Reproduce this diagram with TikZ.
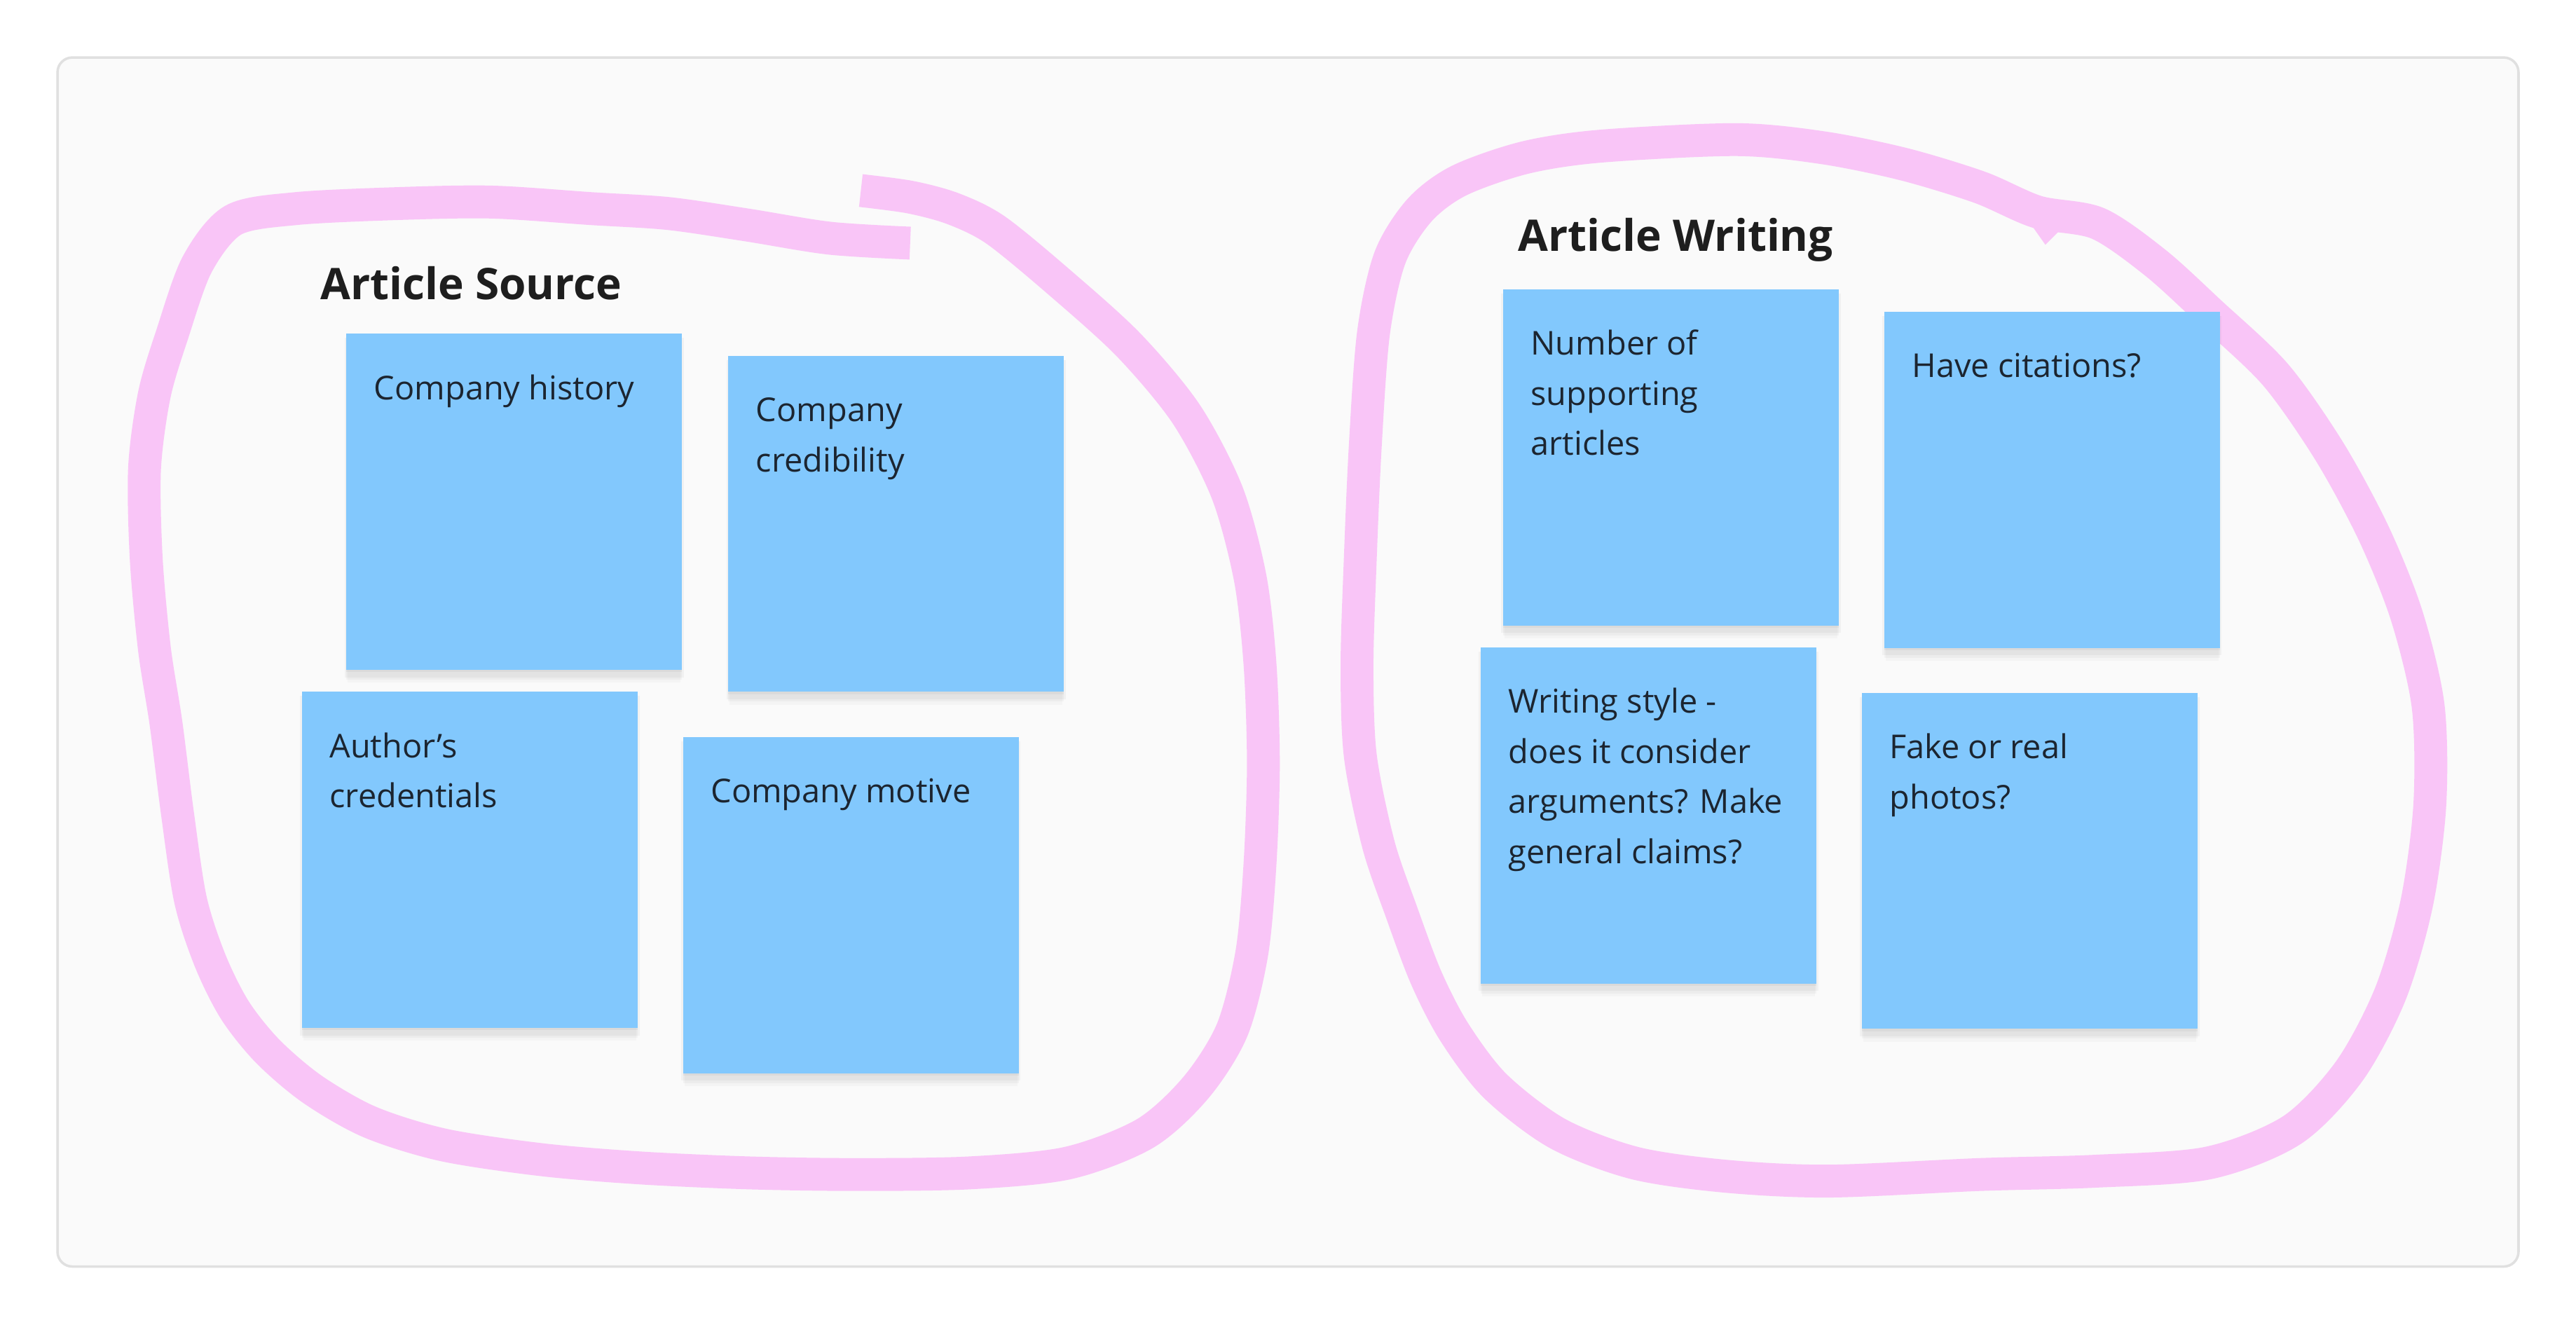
\documentclass[tikz,border=0pt]{standalone}
\usepackage{fontspec}
\setmainfont{Open Sans}
\usetikzlibrary{calc,shadows}
\definecolor{stickyblue}{HTML}{82C8FD}
\definecolor{loopink}{HTML}{F9C5F7}
\definecolor{framefill}{HTML}{FAFAFA}
\definecolor{frameline}{HTML}{E0E0E0}
\definecolor{ink}{HTML}{1C2530}
\definecolor{titleink}{HTML}{1E1E1E}
\begin{document}
\begin{tikzpicture}[x=1pt,y=-1pt,
  framebox/.style={draw=frameline, fill=framefill, line width=1.5pt, rounded corners=9pt},
  sticky/.style={rectangle, fill=stickyblue, minimum width=204.5pt, minimum height=204.5pt, inner sep=0pt, anchor=north west,
    general shadow={fill=black, opacity=0.025, shadow yshift=-9pt, shadow xshift=0pt, shadow scale=0.99},
    general shadow={fill=black, opacity=0.03, shadow yshift=-6pt, shadow xshift=0pt},
    general shadow={fill=black, opacity=0.035, shadow yshift=-3.5pt, shadow xshift=0pt, shadow scale=1.01},
    general shadow={fill=black, opacity=0.04, shadow yshift=-1.5pt, shadow xshift=0pt}},
  stext/.style={anchor=north west, inner sep=0pt, align=left, text=ink, font=\fontsize{20}{30.5}\selectfont},
  grouptitle/.style={anchor=base west, inner sep=0pt, text=titleink, font=\fontsize{26.5}{32}\selectfont\bfseries},
  loopline/.style={draw=loopink, line width=20pt, line cap=butt, line join=round}]
\useasboundingbox (0,0) rectangle (1568,806.2);
\fill[white] (0,0) rectangle (1568,806.2);
\draw[framebox] (35,35) rectangle (1533,771);

% left loop
\draw[loopline] plot[smooth, tension=0.5] coordinates {
  (524,116) (554,120) (580,127) (606,140) (645,172) (687,210) (722,252) (747,300)
  (761,352) (767,405) (769,465) (767,525) (762,580) (750,627) (728,662)
  (697,690) (650,708) (590,714) (520,715) (456,714) (390,711) (330,706)
  (270,697) (225,683) (190,663) (163,640) (143,615) (128,585) (116,548) (108,495)
  (101,440) (94,395) (89,340) (88,285) (94,240) (105,203) (120,161)
  (142,134) (180,127) (240,124) (299,123) (360,127) (407,130) (455,137)
  (505,145) (554,148)};

% right loop
\draw[loopline] plot[smooth cycle, tension=0.5] coordinates {
  (1057,85) (1110,90) (1159,100) (1205,114) (1240,129) (1277,136) (1312,160)
  (1345,190) (1385,228) (1418,275) (1445,325) (1465,375) (1478,430) (1479,490)
  (1471,550) (1455,605) (1430,652) (1395,688) (1344,708) (1275,713) (1205,715)
  (1113,719) (1050,716) (995,708) (948,690) (910,661) (885,628) (868,595)
  (853,555) (839,514) (828,460) (826,405) (828,340) (831,272) (836,203) (846,157)
  (864,128) (888,110) (928,96) (974,89)};
\fill[loopink] (1233,132) -- (1245,149) -- (1257,137) -- cycle;

% stickies
\node[sticky] (s1) at (210.5,203) {};
\node[sticky] (s2) at (443,216.4) {};
\node[sticky] (s3) at (183.5,421) {};
\node[sticky] (s4) at (415.5,448.6) {};
\node[sticky] (s5) at (914.6,176) {};
\node[sticky] (s6) at (1146.6,189.7) {};
\node[sticky] (s7) at (901,394) {};
\node[sticky] (s8) at (1133,421.6) {};

% texts
\node[stext] (t1) at ($(s1.north west)+(17,24)$) {\rule{0pt}{16pt}Company history};
\node[stext] (t2) at ($(s2.north west)+(17,24)$) {\rule{0pt}{16pt}Company\\credibility};
\node[stext] (t3) at ($(s3.north west)+(17,24)$) {\rule{0pt}{16pt}Author’s\\credentials};
\node[stext] (t4) at ($(s4.north west)+(17,24)$) {\rule{0pt}{16pt}Company motive};
\node[stext] (t5) at ($(s5.north west)+(17,24)$) {\rule{0pt}{16pt}Number of\\supporting\\articles};
\node[stext] (t6) at ($(s6.north west)+(17,24)$) {\rule{0pt}{16pt}Have citations?};
\node[stext] (t7) at ($(s7.north west)+(17,24)$) {\rule{0pt}{16pt}Writing style -\\does it consider\\arguments? Make\\general claims?};
\node[stext] (t8) at ($(s8.north west)+(17,24)$) {\rule{0pt}{16pt}Fake or real\\photos?};

\node[grouptitle] (g1) at (195,182.5) {Article Source};
\node[grouptitle] (g2) at (924,153) {Article Writing};
\end{tikzpicture}
\end{document}
